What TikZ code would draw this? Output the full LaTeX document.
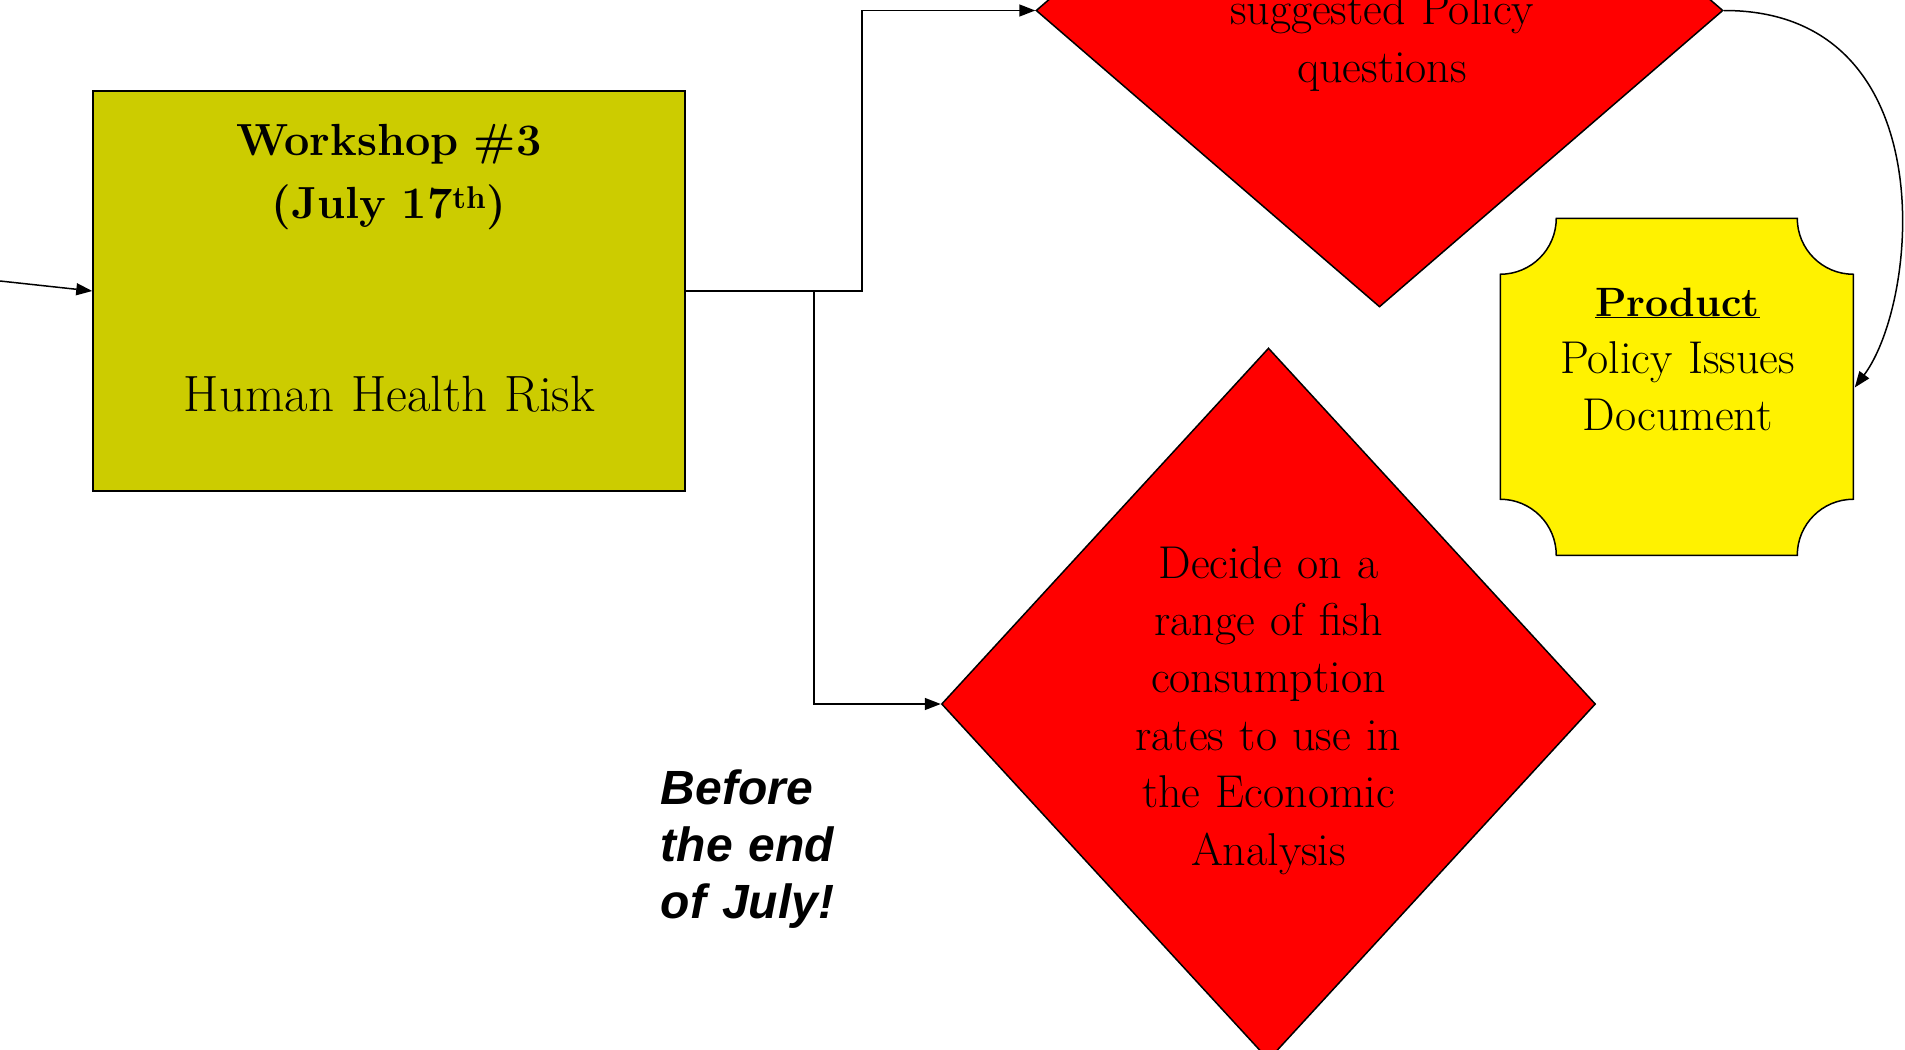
\documentclass[tikz,border=0pt]{standalone}
\usepackage{fontspec}
\newfontfamily\notefont{Liberation Sans}
\usetikzlibrary{shapes.geometric,arrows.meta}
\definecolor{olivebox}{RGB}{204,204,0}

\tikzset{
  flow/.style={-{Triangle[length=16pt,width=12pt]}},
  decide/.style={diamond, draw, fill=red, inner sep=0pt},
  linetext/.style={anchor=base, text width=500pt, align=center, inner sep=0pt,
    font=\fontsize{46}{57.4}\selectfont},
}

\begin{document}
\begin{tikzpicture}[x=1pt, y=-1pt, line width=1.5pt]
  \useasboundingbox (0,0) rectangle (1905,1049);
  \clip (0,0) rectangle (1905,1049);

  % shapes
  \node[draw, fill=olivebox, minimum width=592pt, minimum height=400pt, inner sep=0pt] (ws) at (389,291) {};
  \node[decide, minimum width=687pt, minimum height=593pt] (pq) at (1379.5,10.5) {};
  \node[decide, minimum width=654pt, minimum height=712pt] (fish) at (1268.5,704) {};
  \node[minimum width=353pt, minimum height=337pt, inner sep=0pt] (prod) at (1677.5,387.5) {};
  \draw[fill=yellow] (prod.north west) ++(56,0) -- ++(241,0)
    arc[start angle=180, end angle=90, radius=56] -- ++(0,225)
    arc[start angle=270, end angle=180, radius=56] -- ++(-241,0)
    arc[start angle=0, end angle=-90, radius=56] -- ++(0,-225)
    arc[start angle=90, end angle=0, radius=56] -- cycle;

  % texts
  \node[linetext, font=\fontsize{45}{63}\selectfont\bfseries] (wstitle) at (389,155)
    {Workshop \#3\\(July 17\textsuperscript{th})};
  \node[linetext, font=\fontsize{51}{58}\selectfont] (wstopic) at (389.5,411) {Human Health Risk};
  \node[linetext, font=\fontsize{46}{57.7}\selectfont] (pqtext) at (1382,25) {suggested Policy\\questions};
  \node[linetext] (fishtext) at (1268.5,578)
    {Decide on a\\range of fish\\consumption\\rates to use in\\the Economic\\Analysis};
  \node[linetext] (prodtext) at (1677.5,316)
    {{\fontsize{41}{57.4}\selectfont\bfseries\underline{Product}}\\Policy Issues\\Document};
  \node[anchor=base west, text width=300pt, align=left, inner sep=0pt,
    font=\notefont\fontsize{48}{57}\selectfont\bfseries\itshape] (deadline) at (660,804)
    {Before\\the end\\of July!};

  % connectors
  \coordinate (src) at (0,281);
  \draw[flow] (src) -- (ws.west);
  \draw[flow] (ws.east) -- ++(176,0) |- (pq.west);
  \draw[flow] (ws.east) -- ++(128,0) |- (fish.west);
  \draw[flow] (pq.east) .. controls (1945,10) and (1920,300) .. (prod.east);
\end{tikzpicture}
\end{document}
